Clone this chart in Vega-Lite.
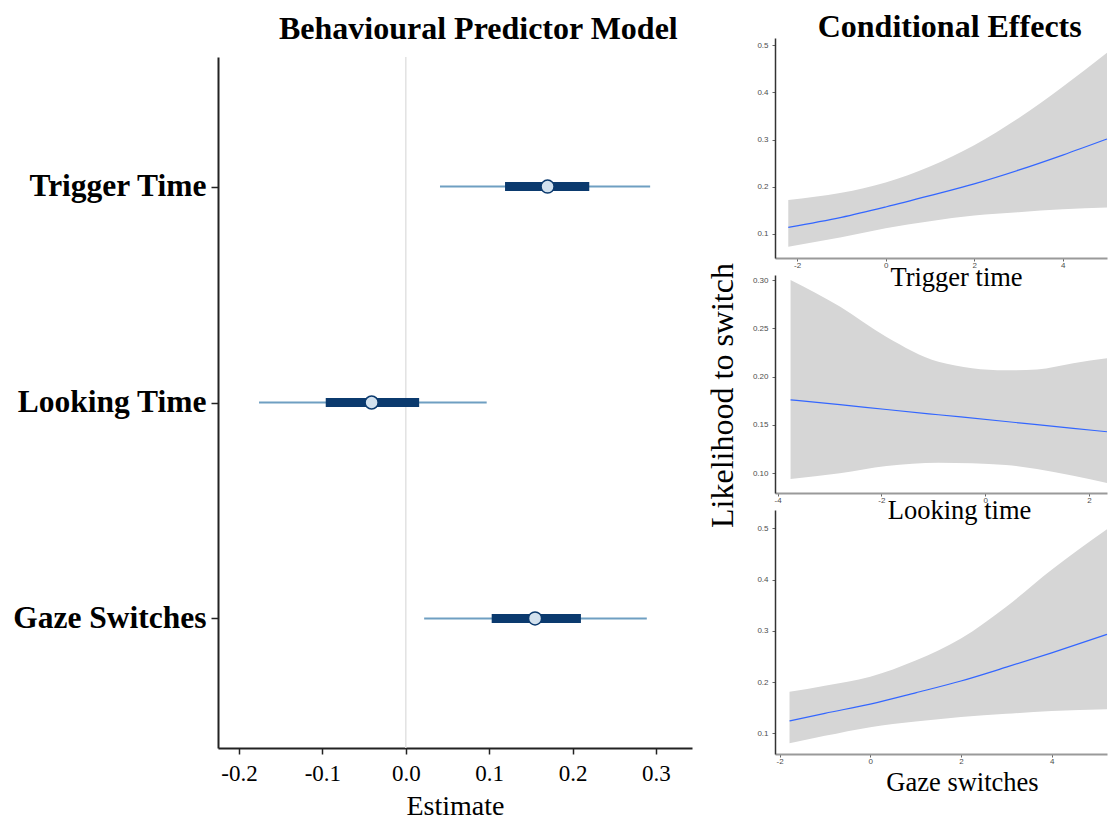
{
  "$schema": "https://vega.github.io/schema/vega-lite/v6.json",
  "background": "white",
  "padding": {"left": 12, "top": 11, "right": 0, "bottom": 0},
  "spacing": 13,
  "config": {
    "view": {"stroke": null},
    "axis": {"grid": false}
  },
  "datasets": {
    "est": [
      {"term": "Trigger Time", "lo95": 0.041, "lo50": 0.119, "est": 0.170, "hi50": 0.220, "hi95": 0.293},
      {"term": "Looking Time", "lo95": -0.176, "lo50": -0.096, "est": -0.041, "hi50": 0.016, "hi95": 0.097},
      {"term": "Gaze Switches", "lo95": 0.022, "lo50": 0.103, "est": 0.155, "hi50": 0.210, "hi95": 0.289}
    ],
    "tt": [
      {"x": -2.2, "lo": 0.073, "fit": 0.114, "hi": 0.172},
      {"x": -1, "lo": 0.093, "fit": 0.135, "hi": 0.187},
      {"x": 0, "lo": 0.112, "fit": 0.157, "hi": 0.209},
      {"x": 1, "lo": 0.127, "fit": 0.181, "hi": 0.243},
      {"x": 2, "lo": 0.139, "fit": 0.206, "hi": 0.288},
      {"x": 3, "lo": 0.146, "fit": 0.235, "hi": 0.345},
      {"x": 4, "lo": 0.152, "fit": 0.267, "hi": 0.412},
      {"x": 5, "lo": 0.156, "fit": 0.301, "hi": 0.484}
    ],
    "lt": [
      {"x": -3.75, "lo": 0.094, "fit": 0.176, "hi": 0.300},
      {"x": -2.8, "lo": 0.100, "fit": 0.171, "hi": 0.2725},
      {"x": -1.9, "lo": 0.1075, "fit": 0.166, "hi": 0.241},
      {"x": -0.9, "lo": 0.111, "fit": 0.1606, "hi": 0.2155},
      {"x": 0.4, "lo": 0.1086, "fit": 0.1536, "hi": 0.2066},
      {"x": 1.0, "lo": 0.1045, "fit": 0.1503, "hi": 0.2075},
      {"x": 1.7, "lo": 0.0975, "fit": 0.1465, "hi": 0.214},
      {"x": 2.35, "lo": 0.090, "fit": 0.143, "hi": 0.219}
    ],
    "gs": [
      {"x": -1.78, "lo": 0.0805, "fit": 0.124, "hi": 0.181},
      {"x": -1, "lo": 0.095, "fit": 0.139, "hi": 0.193},
      {"x": 0, "lo": 0.112, "fit": 0.157, "hi": 0.2105},
      {"x": 1, "lo": 0.123, "fit": 0.179, "hi": 0.242},
      {"x": 2, "lo": 0.132, "fit": 0.202, "hi": 0.285},
      {"x": 3, "lo": 0.138, "fit": 0.229, "hi": 0.347},
      {"x": 4, "lo": 0.1435, "fit": 0.257, "hi": 0.419},
      {"x": 5.22, "lo": 0.147, "fit": 0.293, "hi": 0.498}
    ],
    "none": []
  },
  "hconcat": [
    {
      "title": {"text": "Behavioural Predictor Model", "font": "Liberation Serif", "fontSize": 32, "fontWeight": "bold", "color": "black", "dx": 126, "offset": -8, "anchor": "middle"},
      "bounds": "flush",
      "spacing": 18,
      "vconcat": [
        {
          "width": 474,
          "height": 1,
          "data": {"name": "none"},
          "mark": {"type": "point", "opacity": 0}
        },
        {
          "width": 474,
          "height": 691,
          "data": {"name": "est"},
          "layer": [
            {
              "data": {"values": [{"zero": 0}]},
              "mark": {"type": "rule", "color": "#e2e2e2", "strokeWidth": 1.5},
              "encoding": {"x": {"field": "zero", "type": "quantitative"}}
            },
            {
              "mark": {"type": "rule", "color": "#6f9fc2", "strokeWidth": 2},
              "encoding": {
                "x": {"field": "lo95", "type": "quantitative",
                  "scale": {"domain": [-0.2252, 0.3432], "nice": false, "zero": false},
                  "axis": {"values": [-0.2, -0.1, 0, 0.1, 0.2, 0.3], "format": ".1f", "labelExpr": "replace(datum.label, '−', '-')",
                    "labelFont": "Liberation Serif", "labelFontSize": 23, "labelColor": "black", "labelPadding": 8,
                    "domainColor": "#222222", "domainWidth": 2, "tickColor": "#222222", "tickWidth": 1.5, "tickSize": 6,
                    "title": "Estimate", "titleFont": "Liberation Serif", "titleFontSize": 28, "titleFontWeight": "normal", "titleColor": "black", "titlePadding": 7}},
                "x2": {"field": "hi95"},
                "y": {"field": "term", "type": "nominal", "sort": ["Trigger Time", "Looking Time", "Gaze Switches"],
                  "scale": {"type": "point", "padding": 0.6},
                  "axis": {"title": null, "labelFont": "Liberation Serif", "labelFontSize": 31.5, "labelFontWeight": "bold", "labelColor": "black", "labelPadding": 5, "labelLimit": 0,
                    "domainColor": "#222222", "domainWidth": 2, "tickColor": "#222222", "tickWidth": 1.5, "tickSize": 7}}
              }
            },
            {
              "mark": {"type": "rule", "color": "#0b3a6e", "strokeWidth": 9},
              "encoding": {
                "x": {"field": "lo50", "type": "quantitative"},
                "x2": {"field": "hi50"},
                "y": {"field": "term", "type": "nominal", "sort": ["Trigger Time", "Looking Time", "Gaze Switches"]}
              }
            },
            {
              "mark": {"type": "point", "filled": true, "fill": "#d2e1ee", "stroke": "#0b3a6e", "strokeWidth": 1.5, "size": 170, "opacity": 1},
              "encoding": {
                "x": {"field": "est", "type": "quantitative"},
                "y": {"field": "term", "type": "nominal", "sort": ["Trigger Time", "Looking Time", "Gaze Switches"]}
              }
            }
          ]
        }
      ]
    },
    {
      "title": {"text": "Conditional Effects", "font": "Liberation Serif", "fontSize": 32, "fontWeight": "bold", "color": "black", "dx": 42, "offset": -6, "anchor": "middle"},
      "bounds": "flush",
      "spacing": 17,
      "vconcat": [
        {
          "width": 332,
          "height": 220,
          "data": {"name": "tt"},
          "layer": [
            {
              "mark": {"type": "area", "color": "#d6d6d6", "opacity": 1, "interpolate": "monotone"},
              "encoding": {
                "x": {"field": "x", "type": "quantitative", "scale": {"domain": [-2.5, 5.0], "nice": false, "zero": false},
                  "axis": {"values": [-2, 0, 2, 4], "labelExpr": "replace(datum.label, '−', '-')", "labelFont": "Liberation Sans", "labelFontSize": 8, "labelColor": "#4d4d4d", "labelPadding": 0,
                    "domainColor": "#9a9a9a", "domainWidth": 2, "tickColor": "#666666", "tickSize": 3,
                    "title": "Trigger time", "titleFont": "Liberation Serif", "titleFontSize": 26.5, "titleFontWeight": "normal", "titleColor": "black",
                    "titleX": 181, "titleY": 19, "titleBaseline": "middle", "titleAlign": "center"}},
                "y": {"field": "lo", "type": "quantitative", "scale": {"domain": [0.049, 0.515], "nice": false, "zero": false},
                  "axis": {"values": [0.1, 0.2, 0.3, 0.4, 0.5], "format": ".1f", "labelFont": "Liberation Sans", "labelFontSize": 8, "labelColor": "#4d4d4d", "labelPadding": 4,
                    "domainColor": "#333333", "domainWidth": 1.5, "tickColor": "#666666", "tickSize": 3, "title": null}},
                "y2": {"field": "hi"}
              }
            },
            {
              "mark": {"type": "line", "color": "#3366ff", "strokeWidth": 1.2, "interpolate": "monotone"},
              "encoding": {
                "x": {"field": "x", "type": "quantitative"},
                "y": {"field": "fit", "type": "quantitative"}
              }
            }
          ]
        },
        {
          "width": 332,
          "height": 218,
          "data": {"name": "lt"},
          "layer": [
            {
              "mark": {"type": "area", "color": "#d6d6d6", "opacity": 1, "interpolate": "monotone"},
              "encoding": {
                "x": {"field": "x", "type": "quantitative", "scale": {"domain": [-4.05, 2.35], "nice": false, "zero": false},
                  "axis": {"values": [-4, -2, 0, 2], "labelExpr": "replace(datum.label, '−', '-')", "labelFont": "Liberation Sans", "labelFontSize": 8, "labelColor": "#4d4d4d", "labelPadding": 0,
                    "domainColor": "#9a9a9a", "domainWidth": 2, "tickColor": "#666666", "tickSize": 3,
                    "title": "Looking time", "titleFont": "Liberation Serif", "titleFontSize": 26.5, "titleFontWeight": "normal", "titleColor": "black",
                    "titleX": 184, "titleY": 17, "titleBaseline": "middle", "titleAlign": "center"}},
                "y": {"field": "lo", "type": "quantitative", "scale": {"domain": [0.0796, 0.3052], "nice": false, "zero": false},
                  "axis": {"values": [0.1, 0.15, 0.2, 0.25, 0.3], "format": ".2f", "labelFont": "Liberation Sans", "labelFontSize": 8, "labelColor": "#4d4d4d", "labelPadding": 4,
                    "domainColor": "#333333", "domainWidth": 1.5, "tickColor": "#666666", "tickSize": 3,
                    "title": "Likelihood to switch", "titleFont": "Liberation Serif", "titleFontSize": 32, "titleFontWeight": "normal", "titleColor": "black",
                    "titleAngle": -90, "titleX": -53, "titleY": 120, "titleBaseline": "middle", "titleAlign": "center"}},
                "y2": {"field": "hi"}
              }
            },
            {
              "mark": {"type": "line", "color": "#3366ff", "strokeWidth": 1.2, "interpolate": "monotone"},
              "encoding": {
                "x": {"field": "x", "type": "quantitative"},
                "y": {"field": "fit", "type": "quantitative"}
              }
            }
          ]
        },
        {
          "width": 332,
          "height": 244,
          "data": {"name": "gs"},
          "layer": [
            {
              "mark": {"type": "area", "color": "#d6d6d6", "opacity": 1, "interpolate": "monotone"},
              "encoding": {
                "x": {"field": "x", "type": "quantitative", "scale": {"domain": [-2.1, 5.22], "nice": false, "zero": false},
                  "axis": {"values": [-2, 0, 2, 4], "labelExpr": "replace(datum.label, '−', '-')", "labelFont": "Liberation Sans", "labelFontSize": 8, "labelColor": "#4d4d4d", "labelPadding": 0,
                    "domainColor": "#9a9a9a", "domainWidth": 2, "tickColor": "#666666", "tickSize": 3,
                    "title": "Gaze switches", "titleFont": "Liberation Serif", "titleFontSize": 26.5, "titleFontWeight": "normal", "titleColor": "black",
                    "titleX": 187, "titleY": 28, "titleBaseline": "middle", "titleAlign": "center"}},
                "y": {"field": "lo", "type": "quantitative", "scale": {"domain": [0.0596, 0.5357], "nice": false, "zero": false},
                  "axis": {"values": [0.1, 0.2, 0.3, 0.4, 0.5], "format": ".1f", "labelFont": "Liberation Sans", "labelFontSize": 8, "labelColor": "#4d4d4d", "labelPadding": 4,
                    "domainColor": "#333333", "domainWidth": 1.5, "tickColor": "#666666", "tickSize": 3, "title": null}},
                "y2": {"field": "hi"}
              }
            },
            {
              "mark": {"type": "line", "color": "#3366ff", "strokeWidth": 1.2, "interpolate": "monotone"},
              "encoding": {
                "x": {"field": "x", "type": "quantitative"},
                "y": {"field": "fit", "type": "quantitative"}
              }
            }
          ]
        }
      ]
    }
  ]
}
